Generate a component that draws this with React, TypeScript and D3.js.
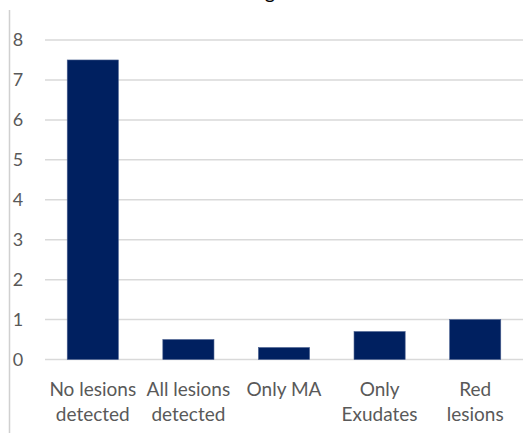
import React from "react";
import * as d3 from "d3";

const categories: string[][] = [
  ["No lesions", "detected"],
  ["All lesions", "detected"],
  ["Only MA"],
  ["Only", "Exudates"],
  ["Red", "lesions"],
];
const values: number[] = [7.5, 0.5, 0.3, 0.7, 1.0];
const yTicks: number[] = [0, 1, 2, 3, 4, 5, 6, 7, 8];

const W = 523;
const H = 433;

export default function App() {
  const x = d3
    .scaleBand<number>()
    .domain(values.map((_, i) => i))
    .range([45, 523])
    .paddingInner(0.465)
    .paddingOuter(0.2325);
  const y = d3.scaleLinear().domain([0, 8]).range([359.5, 40]);
  const font = "Lato, 'Noto Sans', sans-serif";
  return (
    <svg
      width={W}
      height={H}
      style={{ position: "absolute", left: 0, top: 0, background: "#fff" }}
    >
      <text x={270} y={-1} fontSize={20} fontFamily={font} fill="#000" textAnchor="middle">
        g
      </text>
      <line x1={9.5} x2={9.5} y1={10} y2={H} stroke="#d0d0d0" strokeWidth={1.5} />
      {yTicks.map((t) => (
        <g key={t}>
          <line x1={45} x2={W} y1={y(t)} y2={y(t)} stroke="#d9d9d9" strokeWidth={1.5} />
          <text
            x={18}
            y={y(t)}
            dy="0.35em"
            fontSize={18}
            fontFamily={font}
            fill="#595959"
            textAnchor="middle"
          >
            {t}
          </text>
        </g>
      ))}
      {values.map((v, i) => (
        <rect
          key={i}
          x={x(i)}
          y={y(v)}
          width={x.bandwidth()}
          height={y(0) - y(v)}
          fill="#002060"
          stroke="#4a6090"
          strokeWidth={0.6}
        />
      ))}
      {categories.map((lines, i) => (
        <text
          key={i}
          x={(x(i) as number) + x.bandwidth() / 2}
          y={390}
          fontSize={19}
          fontFamily={font}
          fill="#595959"
          textAnchor="middle"
        >
          {lines.map((l, j) => (
            <tspan key={j} x={(x(i) as number) + x.bandwidth() / 2} y={389 + j * 25} dy="0.35em">
              {l}
            </tspan>
          ))}
        </text>
      ))}
    </svg>
  );
}
